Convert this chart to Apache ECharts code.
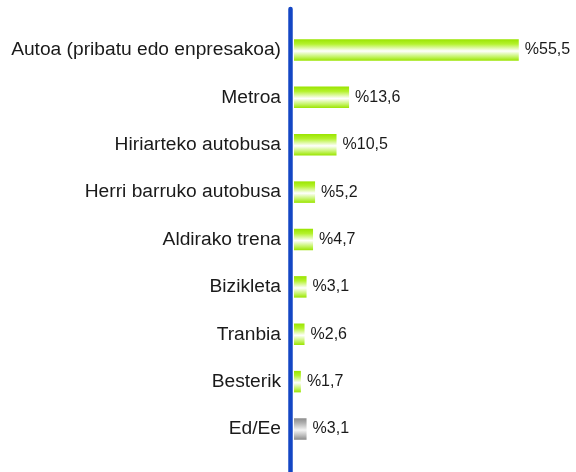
<!DOCTYPE html>
<html>
<head>
<meta charset="utf-8">
<script src="https://cdn.jsdelivr.net/npm/echarts@6/dist/echarts.min.js"></script>
<style>
  html, body { margin: 0; padding: 0; background: #ffffff; }
  #chart { width: 576px; height: 472px; }
</style>
</head>
<body>
<div id="chart"></div>
<script>
// Transport modes (top to bottom) and their shares in percent
const categories = [
  'Autoa (pribatu edo enpresakoa)',
  'Metroa',
  'Hiriarteko autobusa',
  'Herri barruko autobusa',
  'Aldirako trena',
  'Bizikleta',
  'Tranbia',
  'Besterik',
  'Ed/Ee'
];
const shares = [55.5, 13.6, 10.5, 5.2, 4.7, 3.1, 2.6, 1.7, 3.1];
// The "don't know / no answer" row is drawn in grey
const greyCategories = ['Ed/Ee'];

const greenFill = new echarts.graphic.LinearGradient(0, 0, 0, 1, [
  { offset: 0, color: '#9ae400' },
  { offset: 0.22, color: '#b4f22c' },
  { offset: 0.55, color: '#ffffff' },
  { offset: 0.82, color: '#c4f464' },
  { offset: 1, color: '#9ae400' }
]);
const greyFill = new echarts.graphic.LinearGradient(0, 0, 0, 1, [
  { offset: 0, color: '#8c8c8c' },
  { offset: 0.22, color: '#b0b0b0' },
  { offset: 0.55, color: '#f4f4f4' },
  { offset: 0.82, color: '#b8b8b8' },
  { offset: 1, color: '#8a8a8a' }
]);

const chart = echarts.init(document.getElementById('chart'), null, { renderer: 'canvas' });

chart.setOption({
  animation: false,
  backgroundColor: '#ffffff',
  grid: [
    { left: 294, top: 26.3, height: 426.4, width: 243, containLabel: false },
    // full-height grid carrying only the blue baseline
    { left: 290, top: 9, bottom: 0, width: 1, containLabel: false }
  ],
  xAxis: [
    { type: 'value', gridIndex: 0, min: 0, max: 60, show: false },
    { type: 'value', gridIndex: 1, show: false }
  ],
  yAxis: [
    {
      type: 'category',
      gridIndex: 0,
      data: categories,
      inverse: true,
      axisLine: { show: false },
      axisTick: { show: false },
      splitLine: { show: false },
      axisLabel: {
        margin: 13,
        color: '#1a1a1a',
        fontFamily: 'Liberation Sans, Arial, sans-serif',
        fontSize: 19.2
      }
    },
    {
      type: 'value',
      gridIndex: 1,
      axisLine: { show: true, lineStyle: { color: '#1446c4', width: 4.5 } },
      axisTick: { show: false },
      axisLabel: { show: false },
      splitLine: { show: false }
    }
  ],
  series: [
    {
      type: 'bar',
      xAxisIndex: 0,
      yAxisIndex: 0,
      barWidth: 21.5,
      data: shares.map((v, i) => ({
        value: v,
        itemStyle: { color: greyCategories.includes(categories[i]) ? greyFill : greenFill }
      })),
      label: {
        show: true,
        position: 'right',
        distance: 6,
        color: '#1a1a1a',
        fontFamily: 'Liberation Sans, Arial, sans-serif',
        fontSize: 16,
        formatter: p => '%' + String(p.value).replace('.', ',')
      }
    }
  ]
});
</script>
</body>
</html>
